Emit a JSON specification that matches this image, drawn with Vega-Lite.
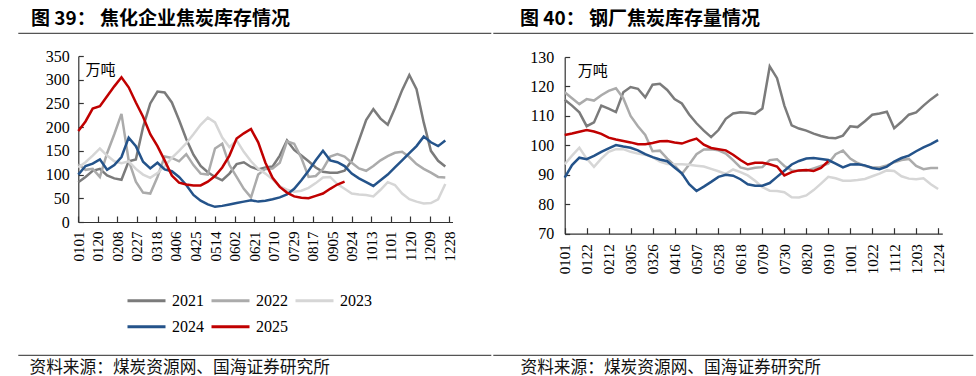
{
  "$schema": "https://vega.github.io/schema/vega-lite/v6.json",
  "padding": {"left": 17, "top": 9, "right": 0, "bottom": 0},
  "background": "white",
  "config": {"font": "Liberation Serif"},
  "datasets": {
    "left": [
      {"d": "0101", "2021": 84, "2022": 122, "2023": 115, "2024": 100, "2025": 192},
      {"d": "0108", "2021": 95, "2022": 110, "2023": 126, "2024": 118, "2025": 212},
      {"d": "0115", "2021": 108, "2022": 112, "2023": 140, "2024": 123, "2025": 239},
      {"d": "0122", "2021": 112, "2022": 95, "2023": 155, "2024": 132, "2025": 244},
      {"d": "0129", "2021": 98, "2022": 145, "2023": 140, "2024": 110, "2025": 265},
      {"d": "0205", "2021": 92, "2022": 185, "2023": 128, "2024": 120, "2025": 286},
      {"d": "0212", "2021": 89, "2022": 228, "2023": 124, "2024": 137, "2025": 305},
      {"d": "0219", "2021": 128, "2022": 130, "2023": 128, "2024": 178, "2025": 284},
      {"d": "0226", "2021": 132, "2022": 85, "2023": 112, "2024": 160, "2025": 252},
      {"d": "0305", "2021": 200, "2022": 62, "2023": 100, "2024": 127, "2025": 222},
      {"d": "0312", "2021": 250, "2022": 60, "2023": 93, "2024": 113, "2025": 185},
      {"d": "0319", "2021": 275, "2022": 95, "2023": 103, "2024": 125, "2025": 160},
      {"d": "0326", "2021": 273, "2022": 138, "2023": 118, "2024": 111, "2025": 130},
      {"d": "0402", "2021": 252, "2022": 135, "2023": 135, "2024": 107, "2025": 98},
      {"d": "0409", "2021": 215, "2022": 128, "2023": 150, "2024": 95, "2025": 83},
      {"d": "0416", "2021": 175, "2022": 143, "2023": 166, "2024": 78, "2025": 79},
      {"d": "0423", "2021": 142, "2022": 120, "2023": 185, "2024": 57, "2025": 77},
      {"d": "0430", "2021": 118, "2022": 102, "2023": 205, "2024": 45, "2025": 77},
      {"d": "0507", "2021": 105, "2022": 100, "2023": 220, "2024": 37, "2025": 85},
      {"d": "0514", "2021": 95, "2022": 155, "2023": 210, "2024": 32, "2025": 97},
      {"d": "0521", "2021": 88, "2022": 165, "2023": 178, "2024": 34, "2025": 115},
      {"d": "0528", "2021": 102, "2022": 120, "2023": 158, "2024": 37, "2025": 140},
      {"d": "0604", "2021": 122, "2022": 95, "2023": 172, "2024": 40, "2025": 176},
      {"d": "0611", "2021": 126, "2022": 70, "2023": 148, "2024": 43, "2025": 187},
      {"d": "0618", "2021": 116, "2022": 52, "2023": 128, "2024": 46, "2025": 196},
      {"d": "0625", "2021": 111, "2022": 100, "2023": 112, "2024": 43, "2025": 168},
      {"d": "0702", "2021": 115, "2022": 112, "2023": 102, "2024": 45, "2025": 125},
      {"d": "0709", "2021": 117, "2022": 113, "2023": 90, "2024": 48, "2025": 93},
      {"d": "0716", "2021": 140, "2022": 125, "2023": 75, "2024": 52, "2025": 74},
      {"d": "0723", "2021": 172, "2022": 170, "2023": 68, "2024": 58, "2025": 62},
      {"d": "0730", "2021": 152, "2022": 165, "2023": 64, "2024": 70, "2025": 54},
      {"d": "0806", "2021": 140, "2022": 135, "2023": 66, "2024": 88, "2025": 51},
      {"d": "0813", "2021": 128, "2022": 95, "2023": 72, "2024": 108, "2025": 50},
      {"d": "0820", "2021": 115, "2022": 97, "2023": 82, "2024": 130, "2025": 55},
      {"d": "0827", "2021": 106, "2022": 112, "2023": 94, "2024": 150, "2025": 60},
      {"d": "0903", "2021": 104, "2022": 138, "2023": 95, "2024": 130, "2025": 70},
      {"d": "0910", "2021": 104, "2022": 143, "2023": 80, "2024": 126, "2025": 79},
      {"d": "0917", "2021": 108, "2022": 138, "2023": 70, "2024": 118, "2025": 85},
      {"d": "0924", "2021": 130, "2022": 125, "2023": 60, "2024": 102},
      {"d": "1001", "2021": 172, "2022": 113, "2023": 58, "2024": 92},
      {"d": "1008", "2021": 215, "2022": 108, "2023": 57, "2024": 84},
      {"d": "1015", "2021": 238, "2022": 118, "2023": 54, "2024": 76},
      {"d": "1022", "2021": 218, "2022": 130, "2023": 68, "2024": 88},
      {"d": "1029", "2021": 205, "2022": 139, "2023": 84, "2024": 100},
      {"d": "1105", "2021": 240, "2022": 146, "2023": 78, "2024": 115},
      {"d": "1112", "2021": 278, "2022": 148, "2023": 60, "2024": 130},
      {"d": "1119", "2021": 310, "2022": 137, "2023": 48, "2024": 145},
      {"d": "1126", "2021": 280, "2022": 122, "2023": 43, "2024": 160},
      {"d": "1203", "2021": 210, "2022": 112, "2023": 39, "2024": 180},
      {"d": "1210", "2021": 150, "2022": 104, "2023": 40, "2024": 168},
      {"d": "1217", "2021": 129, "2022": 95, "2023": 48, "2024": 160},
      {"d": "1224", "2021": 117, "2022": 94, "2023": 80, "2024": 172}
    ],
    "right": [
      {"d": "0101", "2021": 115.5, "2022": 118, "2023": 93.6, "2024": 89, "2025": 103.5},
      {"d": "0108", "2021": 113.5, "2022": 116, "2023": 96.5, "2024": 93.3, "2025": 104},
      {"d": "0115", "2021": 111.2, "2022": 114, "2023": 99.2, "2024": 95.8, "2025": 104.6},
      {"d": "0122", "2021": 106.5, "2022": 115.7, "2023": 95.5, "2024": 95.3, "2025": 105.2},
      {"d": "0129", "2021": 107.8, "2022": 115.2, "2023": 92.7, "2024": 96.4, "2025": 104.7},
      {"d": "0205", "2021": 113.5, "2022": 117, "2023": 95.5, "2024": 97.8, "2025": 103.9},
      {"d": "0212", "2021": 112.5, "2022": 118.5, "2023": 97.8, "2024": 99, "2025": 102.6},
      {"d": "0219", "2021": 111.3, "2022": 119.4, "2023": 98.7, "2024": 100.1, "2025": 102},
      {"d": "0226", "2021": 118, "2022": 116, "2023": 98.7, "2024": 99.6, "2025": 101.5},
      {"d": "0305", "2021": 119.8, "2022": 110, "2023": 97.8, "2024": 99.2, "2025": 101},
      {"d": "0312", "2021": 119.2, "2022": 106.5, "2023": 97.2, "2024": 98.3, "2025": 100.4},
      {"d": "0319", "2021": 116.3, "2022": 103.5, "2023": 96.8, "2024": 97, "2025": 100.4},
      {"d": "0326", "2021": 120.6, "2022": 98, "2023": 96, "2024": 96, "2025": 100.8},
      {"d": "0402", "2021": 120.9, "2022": 98.2, "2023": 94.5, "2024": 95.2, "2025": 101.4},
      {"d": "0409", "2021": 118.8, "2022": 95.5, "2023": 93.7, "2024": 94.6, "2025": 101.5},
      {"d": "0416", "2021": 115.7, "2022": 93.2, "2023": 93.6, "2024": 92.5, "2025": 101},
      {"d": "0423", "2021": 114.2, "2022": 90.3, "2023": 93.6, "2024": 90.5, "2025": 100.6},
      {"d": "0430", "2021": 110.5, "2022": 93.5, "2023": 93.4, "2024": 86.8, "2025": 101.5},
      {"d": "0507", "2021": 107.5, "2022": 97, "2023": 93.1, "2024": 84.5, "2025": 102.3},
      {"d": "0514", "2021": 105, "2022": 98.6, "2023": 92.8, "2024": 86, "2025": 100.2},
      {"d": "0521", "2021": 102.8, "2022": 98.7, "2023": 92, "2024": 87.6, "2025": 99.1},
      {"d": "0528", "2021": 105.2, "2022": 98.3, "2023": 91.2, "2024": 89.3, "2025": 98.7},
      {"d": "0604", "2021": 109, "2022": 97.2, "2023": 90.3, "2024": 90, "2025": 98.3},
      {"d": "0611", "2021": 110.8, "2022": 95, "2023": 91.8, "2024": 89.7, "2025": 96.8},
      {"d": "0618", "2021": 111.2, "2022": 92.5, "2023": 90.9, "2024": 88.5, "2025": 95},
      {"d": "0625", "2021": 111.1, "2022": 91.9, "2023": 89.8, "2024": 86.8, "2025": 93.5},
      {"d": "0702", "2021": 110.7, "2022": 92.4, "2023": 88, "2024": 86.3, "2025": 94.1},
      {"d": "0709", "2021": 112.5, "2022": 92.6, "2023": 85.8, "2024": 86.3, "2025": 94.1},
      {"d": "0716", "2021": 126.8, "2022": 95, "2023": 84.6, "2024": 87.2, "2025": 93.6},
      {"d": "0723", "2021": 122.8, "2022": 95.3, "2023": 84.5, "2024": 89.3, "2025": 92.8},
      {"d": "0730", "2021": 113.5, "2022": 93, "2023": 84.1, "2024": 91.4, "2025": 89.8},
      {"d": "0806", "2021": 106.8, "2022": 91.5, "2023": 82.4, "2024": 93.5, "2025": 90.9},
      {"d": "0813", "2021": 105.7, "2022": 91.4, "2023": 82.3, "2024": 94.7, "2025": 91.5},
      {"d": "0820", "2021": 105, "2022": 91.4, "2023": 83, "2024": 95.5, "2025": 91.6},
      {"d": "0827", "2021": 104, "2022": 92.2, "2023": 84.8, "2024": 95.7, "2025": 91.3},
      {"d": "0903", "2021": 103.2, "2022": 93, "2023": 87, "2024": 95.4, "2025": 92.3},
      {"d": "0910", "2021": 102.6, "2022": 93.8, "2023": 89.3, "2024": 95, "2025": 94.6},
      {"d": "0917", "2021": 102.4, "2022": 97, "2023": 88.8, "2024": 93.8},
      {"d": "0924", "2021": 103.3, "2022": 98.2, "2023": 88, "2024": 92.5},
      {"d": "1001", "2021": 106.5, "2022": 95.5, "2023": 88, "2024": 93.5},
      {"d": "1008", "2021": 106.2, "2022": 94, "2023": 88.2, "2024": 93.6},
      {"d": "1015", "2021": 108.2, "2022": 93, "2023": 88.6, "2024": 93.2},
      {"d": "1022", "2021": 110.4, "2022": 92.5, "2023": 89.5, "2024": 92.3},
      {"d": "1029", "2021": 110.8, "2022": 92.5, "2023": 90.4, "2024": 91.9},
      {"d": "1105", "2021": 111.4, "2022": 93.2, "2023": 91.5, "2024": 92.8},
      {"d": "1112", "2021": 105.8, "2022": 94.2, "2023": 91.3, "2024": 94.5},
      {"d": "1119", "2021": 108, "2022": 95, "2023": 89.5, "2024": 95.7},
      {"d": "1126", "2021": 110.4, "2022": 95.4, "2023": 88.7, "2024": 96.5},
      {"d": "1203", "2021": 111.2, "2022": 93, "2023": 88.5, "2024": 98},
      {"d": "1210", "2021": 113.5, "2022": 91.9, "2023": 88.8, "2024": 99.3},
      {"d": "1217", "2021": 115.6, "2022": 92.3, "2023": 86.8, "2024": 100.4},
      {"d": "1224", "2021": 117.4, "2022": 92.3, "2023": 85.2, "2024": 101.8}
    ]
  },
  "spacing": 0,
  "hconcat": [
    {
      "width": 473, "height": 322,
      "view": {"stroke": "#555", "strokeWidth": 1.2, "strokeDash": [473, 322]},
      "title": {"text": "图 39：  焦化企业焦炭库存情况", "anchor": "start", "dx": 13, "offset": 4, "font": "Noto Sans CJK SC", "fontWeight": "bold", "fontSize": 19, "color": "#000"},
      "data": {"name": "left", "format": {"parse": {"d": "date:'%m%d'"}}},
      "transform": [{"fold": ["2021", "2022", "2023", "2024", "2025"], "as": ["year", "v"]}, {"filter": "isValid(datum.v)"}],
      "mark": {"type": "line", "strokeWidth": 2.5},
      "encoding": {
        "x": {"field": "d", "type": "temporal",
          "scale": {"domain": [{"year": 1900, "month": 1, "date": 1}, {"year": 1900, "month": 12, "date": 31}], "range": [60.3, 434.5]},
          "axis": {"offset": -133, "format": "%m%d", "labelAngle": 270, "grid": false, "tickSize": -6, "labelPadding": 15,
            "values": [
              {"year": 1900, "month": 1, "date": 1}, {"year": 1900, "month": 1, "date": 20}, {"year": 1900, "month": 2, "date": 8},
              {"year": 1900, "month": 2, "date": 27}, {"year": 1900, "month": 3, "date": 18}, {"year": 1900, "month": 4, "date": 6},
              {"year": 1900, "month": 4, "date": 25}, {"year": 1900, "month": 5, "date": 14}, {"year": 1900, "month": 6, "date": 2},
              {"year": 1900, "month": 6, "date": 21}, {"year": 1900, "month": 7, "date": 10}, {"year": 1900, "month": 7, "date": 29},
              {"year": 1900, "month": 8, "date": 17}, {"year": 1900, "month": 9, "date": 5}, {"year": 1900, "month": 9, "date": 24},
              {"year": 1900, "month": 10, "date": 13}, {"year": 1900, "month": 11, "date": 1}, {"year": 1900, "month": 11, "date": 20},
              {"year": 1900, "month": 12, "date": 9}, {"year": 1900, "month": 12, "date": 28}
            ],
            "domainColor": "#333", "domainWidth": 1.2, "tickColor": "#333", "tickWidth": 1.2, "labelFontSize": 15, "labelColor": "#000", "labelFont": "Liberation Serif",
            "title": "资料来源：煤炭资源网、国海证券研究所", "titleFont": "Noto Sans CJK SC", "titleFontWeight": "normal", "titleFontSize": 16.7, "titleColor": "#111",
            "titleAngle": 0, "titleAlign": "left", "titleBaseline": "middle", "titleX": 11, "titleY": 145}},
        "y": {"field": "v", "type": "quantitative", "scale": {"domain": [0, 350], "range": [189, 23]},
          "axis": {"offset": -60.3, "title": "万吨", "titleAngle": 0, "titleAlign": "left", "titleBaseline": "middle", "titleX": 6.7, "titleY": 36,
            "titleFont": "Noto Sans CJK SC", "titleFontWeight": "normal", "titleFontSize": 15, "titleColor": "#000",
            "values": [0, 50, 100, 150, 200, 250, 300, 350], "grid": false, "tickSize": -5, "labelPadding": 14,
            "domainColor": "#333", "domainWidth": 1.2, "tickColor": "#333", "tickWidth": 1.2, "labelFontSize": 16, "labelColor": "#000", "labelFont": "Liberation Serif"}},
        "color": {"field": "year", "type": "nominal",
          "scale": {"domain": ["2021", "2022", "2023", "2024", "2025"], "range": ["#7b7b7b", "#ababab", "#d6d6d6", "#24538a", "#c00000"]},
          "legend": {"orient": "none", "legendX": 117, "legendY": 256, "direction": "horizontal", "columns": 3, "title": null,
            "symbolType": "M-1.9,0H1.9", "symbolSize": 400, "symbolStrokeWidth": 3, "labelFontSize": 16, "labelFont": "Liberation Serif", "labelColor": "#000",
            "labelOffset": 14, "columnPadding": 1, "rowPadding": 6.3}}
      }
    },
    {
      "width": 480, "height": 322,
      "view": {"stroke": "#555", "strokeWidth": 1.2, "strokeDash": [480, 322]},
      "title": {"text": "图 40：  钢厂焦炭库存量情况", "anchor": "start", "dx": 27, "offset": 4, "font": "Noto Sans CJK SC", "fontWeight": "bold", "fontSize": 19, "color": "#000"},
      "data": {"name": "right", "format": {"parse": {"d": "date:'%m%d'"}}},
      "transform": [{"fold": ["2021", "2022", "2023", "2024", "2025"], "as": ["year", "v"]}, {"filter": "isValid(datum.v)"}],
      "mark": {"type": "line", "strokeWidth": 2.5},
      "encoding": {
        "x": {"field": "d", "type": "temporal",
          "scale": {"domain": [{"year": 1900, "month": 1, "date": 1}, {"year": 1900, "month": 12, "date": 28}], "range": [71.7, 449.3]},
          "axis": {"offset": -121.3, "format": "%m%d", "labelAngle": 270, "grid": false, "tickSize": -6, "labelPadding": 16,
            "values": [
              {"year": 1900, "month": 1, "date": 1}, {"year": 1900, "month": 1, "date": 22}, {"year": 1900, "month": 2, "date": 12},
              {"year": 1900, "month": 3, "date": 5}, {"year": 1900, "month": 3, "date": 26}, {"year": 1900, "month": 4, "date": 16},
              {"year": 1900, "month": 5, "date": 7}, {"year": 1900, "month": 5, "date": 28}, {"year": 1900, "month": 6, "date": 18},
              {"year": 1900, "month": 7, "date": 9}, {"year": 1900, "month": 7, "date": 30}, {"year": 1900, "month": 8, "date": 20},
              {"year": 1900, "month": 9, "date": 10}, {"year": 1900, "month": 10, "date": 1}, {"year": 1900, "month": 10, "date": 22},
              {"year": 1900, "month": 11, "date": 12}, {"year": 1900, "month": 12, "date": 3}, {"year": 1900, "month": 12, "date": 24}
            ],
            "domainColor": "#333", "domainWidth": 1.2, "tickColor": "#333", "tickWidth": 1.2, "labelFontSize": 15, "labelColor": "#000", "labelFont": "Liberation Serif",
            "title": "资料来源：煤炭资源网、国海证券研究所", "titleFont": "Noto Sans CJK SC", "titleFontWeight": "normal", "titleFontSize": 16.7, "titleColor": "#111",
            "titleAngle": 0, "titleAlign": "left", "titleBaseline": "middle", "titleX": 27, "titleY": 133.3}},
        "y": {"field": "v", "type": "quantitative", "scale": {"domain": [70, 130], "range": [200.7, 24], "zero": false},
          "axis": {"offset": -71.7, "title": "万吨", "titleAngle": 0, "titleAlign": "left", "titleBaseline": "middle", "titleX": 12.5, "titleY": 37,
            "titleFont": "Noto Sans CJK SC", "titleFontWeight": "normal", "titleFontSize": 15, "titleColor": "#000",
            "values": [70, 80, 90, 100, 110, 120, 130], "grid": false, "tickSize": -5, "labelPadding": 16,
            "domainColor": "#333", "domainWidth": 1.2, "tickColor": "#333", "tickWidth": 1.2, "labelFontSize": 16, "labelColor": "#000", "labelFont": "Liberation Serif"}},
        "color": {"field": "year", "type": "nominal",
          "scale": {"domain": ["2021", "2022", "2023", "2024", "2025"], "range": ["#7b7b7b", "#ababab", "#d6d6d6", "#24538a", "#c00000"]},
          "legend": {"orient": "none", "legendX": 130.7, "legendY": 256, "direction": "horizontal", "columns": 3, "title": null,
            "symbolType": "M-1.9,0H1.9", "symbolSize": 400, "symbolStrokeWidth": 3, "labelFontSize": 15, "labelFont": "Liberation Sans", "labelColor": "#000",
            "labelOffset": 14, "columnPadding": 1, "rowPadding": 6.3}}
      }
    }
  ]
}
